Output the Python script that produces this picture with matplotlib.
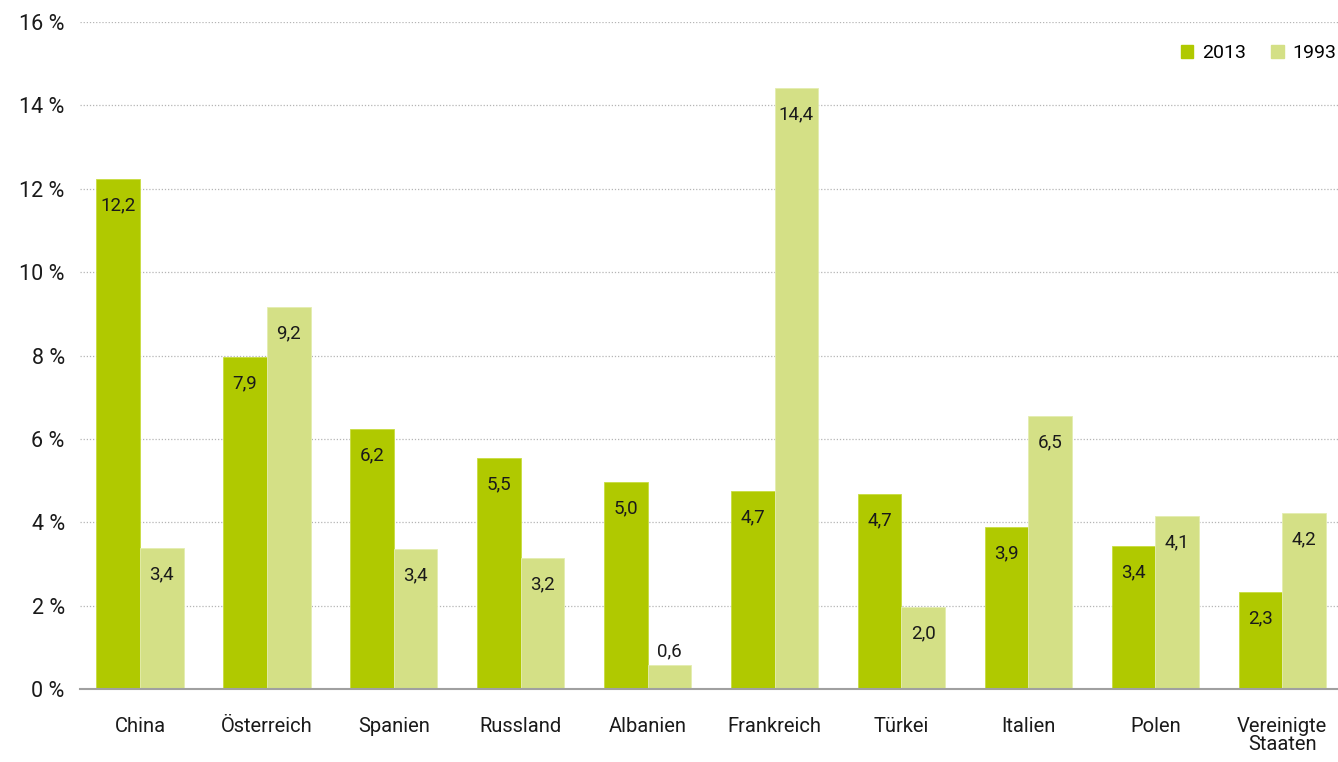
import numpy as np
import matplotlib
matplotlib.use("Agg")
import matplotlib.pyplot as plt
from matplotlib.patches import Patch

plt.rcParams['font.family'] = ['Roboto', 'DejaVu Sans']

countries = ['China', 'Österreich', 'Spanien', 'Russland', 'Albanien',
             'Frankreich', 'Türkei', 'Italien', 'Polen', 'Vereinigte\nStaaten']
share_2013 = [12.23, 7.96, 6.24, 5.54, 4.97, 4.75, 4.67, 3.89, 3.44, 2.33]
share_1993 = [3.38, 9.16, 3.36, 3.14, 0.58, 14.42, 1.97, 6.55, 4.15, 4.22]
labels_2013 = ['12,2', '7,9', '6,2', '5,5', '5,0', '4,7', '4,7', '3,9', '3,4', '2,3']
labels_1993 = ['3,4', '9,2', '3,4', '3,2', '0,6', '14,4', '2,0', '6,5', '4,1', '4,2']
yticks = [0, 2, 4, 6, 8, 10, 12, 14, 16]

dark = '#b0c900'
light = '#d4e086'

fig = plt.figure(figsize=(13.38, 7.62), dpi=100)
ax = fig.add_axes([0.0598, 0.0958, 0.9402, 0.8753])

x = np.arange(len(countries))
w = 0.344
b1 = ax.bar(x - w/2, share_2013, w, color=dark, edgecolor='#c8dc40', linewidth=0.6, zorder=3)
b2 = ax.bar(x + w/2, share_1993, w, color=light, edgecolor='#e4edb0', linewidth=0.6, zorder=3)

def put_labels(bars, texts):
    for rect, t in zip(bars, texts):
        h = rect.get_height()
        cx = rect.get_x() + rect.get_width() / 2
        if h < 1.0:
            off = 10
        else:
            off = -19
        ax.annotate(t, (cx, h), xytext=(0, off), textcoords='offset points',
                    ha='center', va='center', fontsize=13.5, color='#1a1a1a', zorder=4)

put_labels(b1, labels_2013)
put_labels(b2, labels_1993)

ax.set_xlim(-0.473, 9.44)
ax.set_ylim(0, 16)
ax.set_yticks(yticks)
ax.set_yticklabels([f'{v} %' for v in yticks], fontsize=15.5, color='#1a1a1a')
ax.set_xticks(x)
ax.set_xticklabels(countries, fontsize=14.5, color='#1a1a1a', linespacing=0.95)
ax.tick_params(axis='y', length=0, pad=11)
ax.tick_params(axis='x', length=0, pad=20)

for v in yticks[1:]:
    ax.axhline(v, color='#b5b5b5', linewidth=0.9, linestyle=(0, (1, 1.5)), zorder=1)

for s in ['top', 'right', 'left']:
    ax.spines[s].set_visible(False)
ax.spines['bottom'].set_color('#a0a0a0')
ax.spines['bottom'].set_linewidth(1.5)
ax.spines['bottom'].set_zorder(5)

handles = [Patch(color=dark, label='2013'), Patch(color=light, label='1993')]
fig.legend(handles=handles, loc='upper right', bbox_to_anchor=(1.012, 0.965), ncol=2,
           frameon=False, fontsize=14, handlelength=0.65, handleheight=0.65,
           handletextpad=0.45, columnspacing=1.3)

fig.savefig('out.png', dpi=100)
